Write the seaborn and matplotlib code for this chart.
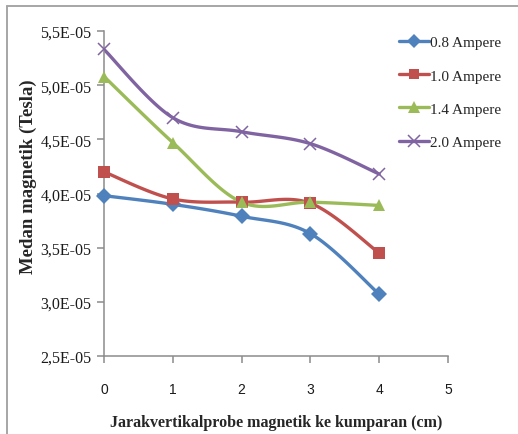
import numpy as np
import pandas as pd
import matplotlib
matplotlib.use("Agg")
import matplotlib.pyplot as plt
from matplotlib.lines import Line2D
import seaborn as sns

# Probe distance from the coil (cm)
distance_cm = [0, 1, 2, 3, 4]

# Measured magnetic field (Tesla) for each coil current
field_08A = [3.98e-05, 3.90e-05, 3.79e-05, 3.63e-05, 3.07e-05]
field_10A = [4.20e-05, 3.95e-05, 3.92e-05, 3.91e-05, 3.45e-05]
field_14A = [5.08e-05, 4.47e-05, 3.92e-05, 3.92e-05, 3.89e-05]
field_20A = [5.33e-05, 4.70e-05, 4.57e-05, 4.46e-05, 4.18e-05]

series_labels = ["0.8 Ampere", "1.0 Ampere", "1.4 Ampere", "2.0 Ampere"]
y_ticks = [2.5e-05, 3.0e-05, 3.5e-05, 4.0e-05, 4.5e-05, 5.0e-05, 5.5e-05]
y_tick_labels = ["2,5E-05", "3,0E-05", "3,5E-05", "4,0E-05", "4,5E-05", "5,0E-05", "5,5E-05"]
x_ticks = [0, 1, 2, 3, 4, 5]

colors = ["#4F81BD", "#C0504D", "#9BBB59", "#8064A2"]
markers = ["D", "s", "^", "x"]
marker_sizes = [8, 8.5, 9, 9]


def smooth_curve(xs, ys, steps=30):
    """Bezier smoothing through every point, same as a spreadsheet 'smoothed line'."""
    xs = np.asarray(xs, float)
    ys = np.asarray(ys, float)
    n = len(xs)
    px = np.concatenate([[xs[0]], xs, [xs[-1]]])
    py = np.concatenate([[ys[0]], ys, [ys[-1]]])
    out_x, out_y = [], []
    t = np.linspace(0, 1, steps)
    for i in range(n - 1):
        p0 = np.array([px[i + 1], py[i + 1]])
        p3 = np.array([px[i + 2], py[i + 2]])
        c1 = p0 + (np.array([px[i + 2], py[i + 2]]) - np.array([px[i], py[i]])) / 6
        c2 = p3 - (np.array([px[i + 3], py[i + 3]]) - np.array([px[i + 1], py[i + 1]])) / 6
        b = ((1 - t) ** 3)[:, None] * p0 + (3 * (1 - t) ** 2 * t)[:, None] * c1 \
            + (3 * (1 - t) * t ** 2)[:, None] * c2 + (t ** 3)[:, None] * p3
        out_x.extend(b[:, 0])
        out_y.extend(b[:, 1])
    return out_x, out_y


sns.set_style("white")
plt.rcParams["font.family"] = ["Liberation Serif", "DejaVu Serif"]

fig = plt.figure(figsize=(5.18, 4.35), dpi=100)
ax = fig.add_axes([0.2008, 0.1793, 0.6641, 0.7471])

all_series = [field_08A, field_10A, field_14A, field_20A]
handles = []
for vals, lab, col, mk, ms in zip(all_series, series_labels, colors, markers, marker_sizes):
    sx, sy = smooth_curve(distance_cm, vals)
    curve = pd.DataFrame({"x": sx, "y": sy})
    sns.lineplot(data=curve, x="x", y="y", ax=ax, color=col, linewidth=2.4,
                 sort=False, estimator=None, legend=False)
    pts = pd.DataFrame({"x": distance_cm, "y": vals})
    if mk == "x":
        ax.plot(pts["x"], pts["y"], linestyle="none", marker="x", markersize=ms,
                markeredgewidth=1.1, color=col, clip_on=False, zorder=4)
    else:
        ax.plot(pts["x"], pts["y"], linestyle="none", marker=mk, markersize=ms,
                color=col, markeredgewidth=0, clip_on=False, zorder=4)
    handles.append(Line2D([0], [0], color=col, linewidth=2.4, marker=mk,
                          markersize=ms * 0.9,
                          markeredgewidth=1.1 if mk == "x" else 0))

ax.set_xlim(0, 5)
ax.set_ylim(2.5e-05, 5.5e-05)
ax.set_xticks(x_ticks)
ax.set_xticklabels([str(v) for v in x_ticks], fontfamily="Liberation Sans", fontsize=10)
ax.set_yticks(y_ticks)
ax.set_yticklabels(y_tick_labels, fontsize=11.5)
ax.tick_params(axis="both", direction="out", length=5, width=1.1, color="#8c8c8c",
               colors="#1a1a1a", left=True, bottom=True)
ax.tick_params(axis="x", pad=14)
ax.tick_params(axis="y", pad=4)

for side in ["top", "right"]:
    ax.spines[side].set_visible(False)
for side in ["left", "bottom"]:
    ax.spines[side].set_color("#8c8c8c")
    ax.spines[side].set_linewidth(1.1)

ax.set_xlabel("Jarakvertikalprobe magnetik ke kumparan (cm)", fontsize=11.5,
              fontweight="bold")
ax.set_ylabel("Medan magnetik (Tesla)", fontsize=13.5, fontweight="bold")
ax.xaxis.set_label_coords(0.5, -0.178)
ax.yaxis.set_label_coords(-0.196, 0.555)

fig.legend(handles=handles, labels=series_labels, loc="upper left",
           bbox_to_anchor=(0.758, 0.93), frameon=False, fontsize=11,
           handlelength=2.0, handletextpad=0.05, labelspacing=1.28,
           borderaxespad=0)

# Chart-area frame along the left and top edges
frame_col = "#a6a6a6"
fig.add_artist(Line2D([7 / 518, 7 / 518], [0, 1 - 7 / 435], color=frame_col,
                      linewidth=1.4, transform=fig.transFigure))
fig.add_artist(Line2D([7 / 518, 1], [1 - 7 / 435, 1 - 7 / 435], color=frame_col,
                      linewidth=1.4, transform=fig.transFigure))

fig.savefig("out.png", dpi=100)
